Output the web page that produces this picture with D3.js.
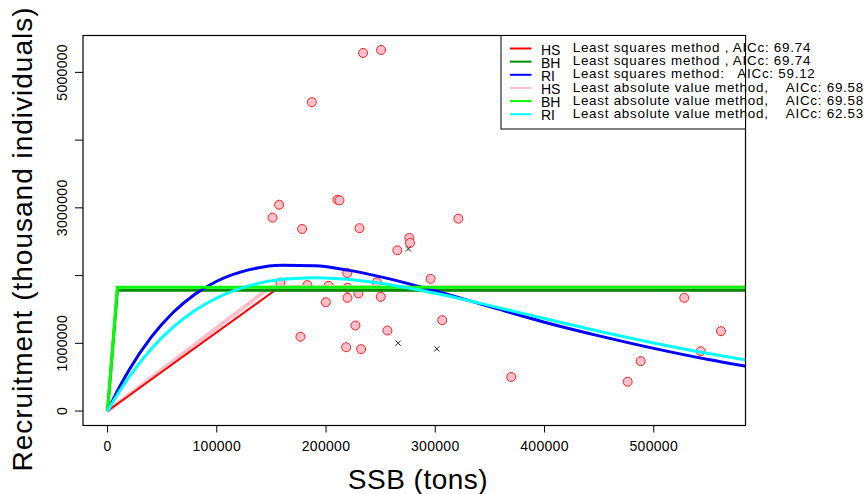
<!DOCTYPE html>
<html>
<head>
<meta charset="utf-8">
<script src="https://cdn.jsdelivr.net/npm/d3@7"></script>
<style>
  html, body { margin: 0; padding: 0; background: #fff; }
  svg { display: block; font-family: "Liberation Sans", Arial, sans-serif; }
  text { white-space: pre; }
</style>
</head>
<body>
<svg id="chart" width="867" height="494"></svg>
<script>
// observed stock-recruitment pairs
const ssb = [233900, 250400, 187000, 157100, 151000, 210400, 212300, 178100, 230600, 321100,
             276300, 276900, 265300, 219500, 246500, 295700, 158300, 182900, 202400, 219600,
             219600, 229600, 250100, 199800, 306400, 226900, 256200, 176600, 218400, 232100,
             369500, 527900, 561500, 542900, 488000, 476100];
const rec = [5287000, 5331000, 4560000, 3046000, 2855000, 3120000, 3110000, 2688000, 2700000, 2840000,
             2556000, 2482000, 2373000, 2037000, 1901000, 1951000, 1897000, 1860000, 1848000, 1819000,
             1671000, 1739000, 1686000, 1606000, 1341000, 1263000, 1189000, 1097000, 942000, 914000,
             504000, 1671000, 1179000, 884000, 737000, 433000];

// points marked with x
const exSSB = [275400, 266000, 301400];
const exRec = [2394000, 1002000, 918000];

// fitted curves
const gridSSB = [0, 10000, 20000, 40000, 60000, 80000, 100000, 130000, 160000, 190000,
                 220000, 260000, 300000, 350000, 400000, 450000, 500000, 550000, 590000];
const riLS = [0, 325300, 613400, 1090600, 1454400, 1723900, 1916000, 2087800, 2153900, 2144200,
              2080700, 1943600, 1772200, 1541100, 1312100, 1110000, 925000, 760000, 645000];
const riLAD = [0, 268700, 509700, 917100, 1237500, 1484300, 1669000, 1851400, 1944100, 1969600,
               1945800, 1861300, 1738100, 1556700, 1365500, 1178700, 1005300, 848600, 736800];
const hsLSSSB = [0, 153400, 590000];
const hsLS = [0, 1783000, 1783000];
const bhLSSSB = [0, 9000, 590000];
const bhLS = [0, 1783000, 1783000];
const hsLADSSB = [0, 148900, 590000];
const hsLAD = [0, 1828000, 1828000];
const bhLADSSB = [0, 9000, 590000];
const bhLAD = [0, 1828000, 1828000];

const xTicks = [0, 100000, 200000, 300000, 400000, 500000];
const yTicks = [0, 1000000, 2000000, 3000000, 4000000, 5000000];
const yLabels = [0, 1000000, 3000000, 5000000];

const legendCodes = ['HS', 'BH', 'RI', 'HS', 'BH', 'RI'];
const legendTexts = [
  'Least squares method , AICc: 69.74',
  'Least squares method , AICc: 69.74',
  'Least squares method:   AICc: 59.12',
  'Least absolute value method,    AICc: 69.58',
  'Least absolute value method,    AICc: 69.58',
  'Least absolute value method,    AICc: 62.53'
];
const legendColors = ['#ff0000', '#008b00', '#0000ff', '#ffc0cb', '#00ff00', '#00ffff'];

const svg = d3.select('#chart');
const box = { left: 83, right: 745.5, top: 35.5, bottom: 425.5 };

// R style 4% padding
const xMax = d3.max(ssb), yMax = d3.max(rec);
const x = d3.scaleLinear()
  .domain([0 - xMax * 0.04, xMax * 1.04])
  .range([box.left, box.right]);
const y = d3.scaleLinear()
  .domain([0 - yMax * 0.04, yMax * 1.04])
  .range([box.bottom, box.top]);

svg.append('clipPath').attr('id', 'plotclip')
  .append('rect')
  .attr('x', box.left).attr('y', box.top)
  .attr('width', box.right - box.left).attr('height', box.bottom - box.top);

// points
svg.append('g').selectAll('circle')
  .data(ssb.map((s, i) => [s, rec[i]]))
  .enter().append('circle')
  .attr('cx', d => x(d[0]))
  .attr('cy', d => y(d[1]))
  .attr('r', 4.5)
  .attr('fill', '#ffc0cb')
  .attr('stroke', '#ff2020')
  .attr('stroke-width', 1);

// curves
const line = d3.line().x(d => x(d[0])).y(d => y(d[1]));
const smooth = d3.line().x(d => x(d[0])).y(d => y(d[1])).curve(d3.curveMonotoneX);
const curves = [
  { s: hsLADSSB, r: hsLAD, color: '#ffc0cb', w: 4, gen: line },
  { s: hsLSSSB, r: hsLS, color: '#ff0000', w: 2, gen: line },
  { s: bhLSSSB, r: bhLS, color: '#008b00', w: 3, gen: line },
  { s: gridSSB, r: riLS, color: '#0000ff', w: 3, gen: smooth },
  { s: bhLADSSB, r: bhLAD, color: '#00ff00', w: 3, gen: line },
  { s: gridSSB, r: riLAD, color: '#00ffff', w: 3, gen: smooth }
];
const lg = svg.append('g').attr('clip-path', 'url(#plotclip)');
curves.forEach(c => {
  lg.append('path')
    .attr('d', c.gen(c.s.map((s, i) => [s, c.r[i]])))
    .attr('fill', 'none')
    .attr('stroke', c.color)
    .attr('stroke-width', c.w);
});

// excluded points
const cross = svg.append('g').attr('stroke', '#222').attr('stroke-width', 1);
exSSB.forEach((s, i) => {
  const cx = x(s), cy = y(exRec[i]);
  cross.append('line').attr('x1', cx - 2.6).attr('y1', cy - 2.6).attr('x2', cx + 2.6).attr('y2', cy + 2.6);
  cross.append('line').attr('x1', cx - 2.6).attr('y1', cy + 2.6).attr('x2', cx + 2.6).attr('y2', cy - 2.6);
});

// frame
svg.append('rect')
  .attr('x', box.left).attr('y', box.top)
  .attr('width', box.right - box.left).attr('height', box.bottom - box.top)
  .attr('fill', 'none').attr('stroke', '#000').attr('stroke-width', 1.2);

// x axis
const xAxis = svg.append('g');
xTicks.forEach(t => {
  xAxis.append('line')
    .attr('x1', x(t)).attr('x2', x(t))
    .attr('y1', box.bottom).attr('y2', box.bottom + 7)
    .attr('stroke', '#000');
  xAxis.append('text')
    .attr('x', x(t)).attr('y', 450.5)
    .attr('text-anchor', 'middle')
    .attr('font-size', 14).attr('letter-spacing', 0.3)
    .text(t);
});

// y axis
const yAxis = svg.append('g');
yTicks.forEach(t => {
  yAxis.append('line')
    .attr('x1', box.left - 8).attr('x2', box.left)
    .attr('y1', y(t)).attr('y2', y(t))
    .attr('stroke', '#000');
});
yLabels.forEach(t => {
  yAxis.append('text')
    .attr('transform', `translate(66.5,${y(t)}) rotate(-90)`)
    .attr('text-anchor', 'middle')
    .attr('font-size', 14).attr('letter-spacing', 0.3)
    .text(t);
});

// axis titles
svg.append('text')
  .attr('x', 418).attr('y', 489)
  .attr('text-anchor', 'middle')
  .attr('font-size', 28).attr('letter-spacing', 0.5)
  .text('SSB (tons)');
svg.append('text')
  .attr('transform', 'translate(32,239) rotate(-90)')
  .attr('text-anchor', 'middle')
  .attr('font-size', 28).attr('letter-spacing', 1)
  .text('Recruitment (thousand individuals)');

// legend
const leg = svg.append('g');
leg.append('rect')
  .attr('x', 501).attr('y', box.top)
  .attr('width', box.right - 501).attr('height', 129 - box.top)
  .attr('fill', '#fff').attr('stroke', '#000').attr('stroke-width', 1);
legendTexts.forEach((t, i) => {
  const ry = 48.5 + i * 13.15;
  leg.append('line')
    .attr('x1', 510).attr('x2', 531.5)
    .attr('y1', ry).attr('y2', ry)
    .attr('stroke', legendColors[i]).attr('stroke-width', 2);
  leg.append('text')
    .attr('x', 541).attr('y', ry + 6)
    .attr('font-size', 14)
    .text(legendCodes[i]);
  leg.append('text')
    .attr('x', 572.7).attr('y', ry + 3.6)
    .attr('font-size', 13.4).attr('letter-spacing', 0.75)
    .text(t);
});
</script>
</body>
</html>
